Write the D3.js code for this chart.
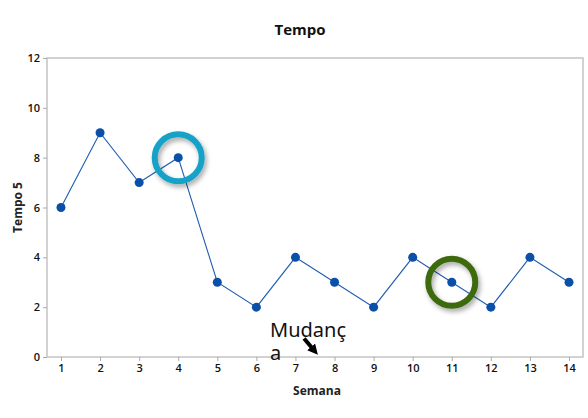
<!DOCTYPE html>
<html lang="pt">
<head>
<meta charset="UTF-8">
<title>Tempo</title>
<script src="https://d3js.org/d3.v7.min.js"></script>
<style>
  * { margin: 0; padding: 0; }
  body { background: #fff; }
  text { font-family: "Open Sans", "Noto Sans", sans-serif; }
</style>
</head>
<body>
<script>
  // data
  var semana = [1, 2, 3, 4, 5, 6, 7, 8, 9, 10, 11, 12, 13, 14];
  var tempo5 = [6, 9, 7, 8, 3, 2, 4, 3, 2, 4, 3, 2, 4, 3];
  var yTicks = [0, 2, 4, 6, 8, 10, 12];
  // highlighted points (semana index) and their ring colour
  var marcados = [{ s: 4, cor: "#17a2c6" }, { s: 11, cor: "#3e6b10" }];

  var width = 588, height = 418;
  // note: "top" is a reserved window prop, so use other names
  var pLeft = 47, pRight = 583, pTop = 58, pBottom = 357;

  var svg = d3.select("body").append("svg")
      .attr("width", width)
      .attr("height", height);

  var defs = svg.append("defs");
  var f = defs.append("filter").attr("id", "sombra")
      .attr("x", "-30%").attr("y", "-30%").attr("width", "170%").attr("height", "170%");
  f.append("feDropShadow").attr("dx", 2).attr("dy", 3).attr("stdDeviation", 2.5)
      .attr("flood-color", "#000").attr("flood-opacity", 0.35);

  var x = d3.scaleLinear().domain([0.642, 14.358]).range([pLeft, pRight]);
  var y = d3.scaleLinear().domain([0, 12]).range([pBottom, pTop]);

  // frame
  svg.append("rect")
      .attr("x", pLeft).attr("y", pTop)
      .attr("width", pRight - pLeft).attr("height", pBottom - pTop)
      .attr("fill", "none").attr("stroke", "#c4c4c4").attr("stroke-width", 1.5);

  var yAxis = svg.append("g")
      .attr("transform", "translate(" + pLeft + ",0)")
      .call(d3.axisLeft(y).tickValues(yTicks).tickSize(4).tickPadding(3));
  yAxis.select(".domain").remove();
  yAxis.selectAll("line").attr("stroke", "#aaa");
  yAxis.selectAll("text").attr("font-size", 11).attr("fill", "#111").attr("font-weight", 600)
      .style("font-family", "'Open Sans', sans-serif");

  var xAxis = svg.append("g")
      .attr("transform", "translate(0," + pBottom + ")")
      .call(d3.axisBottom(x).tickValues(semana).tickFormat(d3.format("d")).tickSize(4).tickPadding(3));
  xAxis.select(".domain").remove();
  xAxis.selectAll("line").attr("stroke", "#aaa");
  xAxis.selectAll("text").attr("font-size", 11).attr("fill", "#111").attr("font-weight", 600)
      .style("font-family", "'Open Sans', sans-serif");

  // title and axis labels
  svg.append("text").attr("x", 300).attr("y", 35)
      .attr("text-anchor", "middle").attr("font-size", 15).attr("font-weight", "bold")
      .attr("fill", "#111").text("Tempo");
  svg.append("text").attr("x", (pLeft + pRight) / 2 + 2).attr("y", 395)
      .attr("text-anchor", "middle").attr("font-size", 12).attr("font-weight", "bold")
      .attr("fill", "#222").text("Semana");
  svg.append("text")
      .attr("transform", "translate(22," + ((pTop + pBottom) / 2) + ") rotate(-90)")
      .attr("text-anchor", "middle").attr("font-size", 12).attr("font-weight", "bold")
      .attr("fill", "#222").text("Tempo 5");

  var dados = semana.map(function(d, i) { return { s: d, v: tempo5[i] }; });

  svg.append("path")
      .datum(dados)
      .attr("fill", "none")
      .attr("stroke", "#1f5db3")
      .attr("stroke-width", 1.1)
      .attr("d", d3.line().x(function(d) { return x(d.s); }).y(function(d) { return y(d.v); }));

  svg.selectAll("circle.ponto")
      .data(dados)
      .enter().append("circle")
      .attr("class", "ponto")
      .attr("cx", function(d) { return x(d.s); })
      .attr("cy", function(d) { return y(d.v); })
      .attr("r", 4.5)
      .attr("fill", "#0a4fa8");

  // rings
  svg.selectAll("circle.anel")
      .data(marcados)
      .enter().append("circle")
      .attr("class", "anel")
      .attr("cx", function(d) { return x(d.s); })
      .attr("cy", function(d) { return y(tempo5[d.s - 1]); })
      .attr("r", 23.5)
      .attr("fill", "none")
      .attr("stroke", function(d) { return d.cor; })
      .attr("stroke-width", 6)
      .attr("filter", "url(#sombra)");

  // annotation
  var nota = svg.append("text").attr("x", 270).attr("font-size", 20).attr("fill", "#111")
      .style("font-family", "'Noto Sans', 'Open Sans', sans-serif");
  nota.append("tspan").attr("x", 270).attr("y", 337).text("Mudanç");
  nota.append("tspan").attr("x", 270).attr("y", 360).text("a");

  defs.append("marker").attr("id", "seta")
      .attr("viewBox", "0 0 10 10").attr("refX", 4).attr("refY", 5)
      .attr("markerWidth", 2.6).attr("markerHeight", 2.6).attr("orient", "auto")
      .append("path").attr("d", "M0,0 L10,5 L0,10 z").attr("fill", "#000");
  svg.append("line")
      .attr("x1", x(7.22)).attr("y1", y(0.74))
      .attr("x2", x(7.47)).attr("y2", y(0.28))
      .attr("stroke", "#000").attr("stroke-width", 4)
      .attr("marker-end", "url(#seta)");
</script>
</body>
</html>
